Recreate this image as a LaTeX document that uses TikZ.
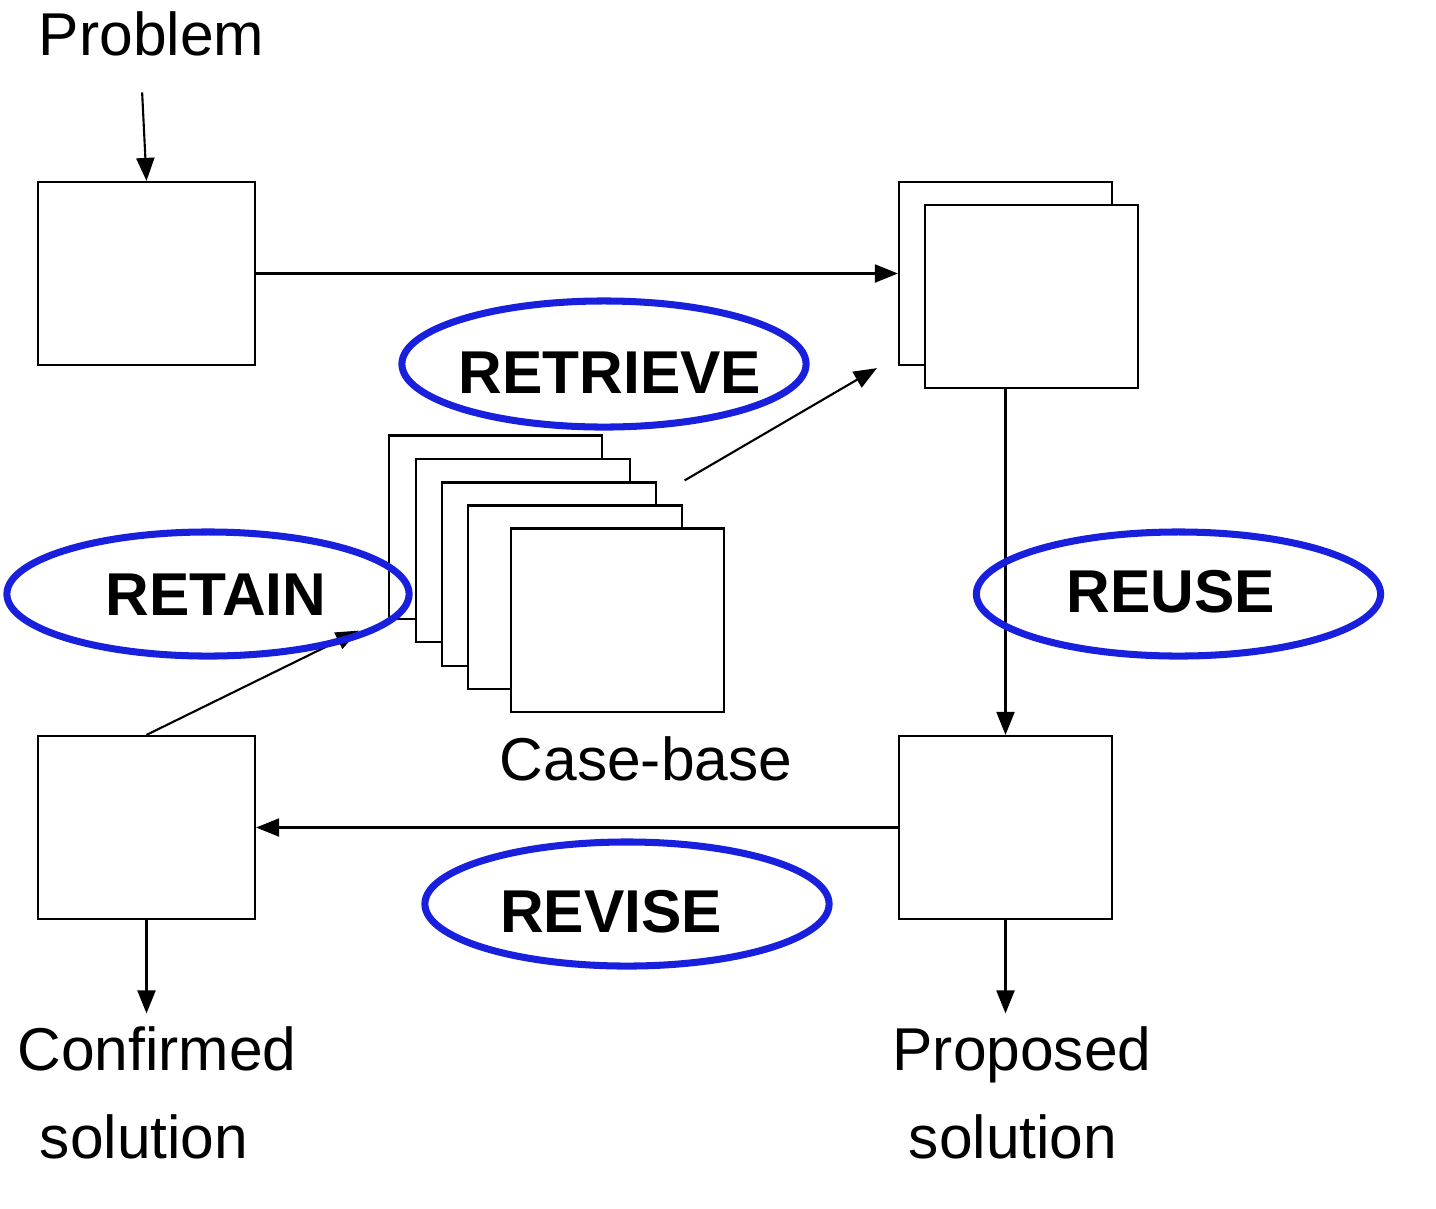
\documentclass[tikz,border=0pt]{standalone}
\usepackage{fontspec}
\setmainfont{Liberation Sans}
\usetikzlibrary{arrows.meta,positioning}
\definecolor{phaseblue}{RGB}{24,32,222}

\begin{document}
\begin{tikzpicture}[x=0.01cm,y=-0.01cm,>={Triangle[length=2.3mm,width=1.8mm]},line width=0.6pt,
  font=\fontsize{17.2}{21}\selectfont,
  case/.style={draw,fill=white,minimum width=2.13cm,minimum height=1.83cm,inner sep=0pt},
  txt/.style={anchor=base},
  phase/.style={draw=phaseblue,line width=2pt},
  phasetext/.style={anchor=base,font=\fontsize{17.2}{21}\selectfont\bfseries}]
\useasboundingbox (0,0) rectangle (1436,1208);
\node[txt] (problem) at (151.5,55) {Problem};
\node[case,minimum width=2.17cm] (new) at (146.5,273.5) {};
\node[case] (retrieved) at (1005.5,273.5) {};
\node[case] (retrievedb) at (1031.5,296.5) {};
% case-base
\node[case] (cb1) at (495.5,527) {};
\node[case] (cb2) at (523,550.5) {};
\node[case] (cb3) at (549,574) {};
\node[case] (cb4) at (575,597) {};
\node[case] (cb5) at (617.5,620) {};
\node[txt] (casebase) at (646,780) {Case-base};
\node[case] (solved) at (1005.5,827.5) {};
\node[case,minimum width=2.17cm] (tested) at (146.5,827.5) {};
\node[txt] (confirmed) at (157,1070) {Confirmed};
\node[txt] (confirmedb) at (144,1158) {solution};
\node[txt] (proposed) at (1022,1070) {Proposed};
\node[txt] (proposedb) at (1013,1158) {solution};

\draw[->,shorten <=0.24cm] ([xshift=-3]problem.south) -- (new.north);
\path[->] (new) edge (retrieved);
\draw[->] ([shift={(2,-24)}]cb4.north east) -- ([shift={(-21,2)}]retrieved.south west);
\draw[->] (retrievedb.south -| solved) -- (solved.north);
\path[->] (solved) edge (tested);
\draw[->] (tested.north) -- ([shift={(-29,11)}]cb1.south west);
\draw[->] (tested.south) -- (tested.south |- confirmed.north);
\draw[->] (solved.south) -- (solved.south |- proposed.north);

% the four phases
\draw[phase] (604,364) ellipse [x radius=2.02cm,y radius=0.63cm];
\node[phasetext] (retrieve) at (610,393) {RETRIEVE};
\draw[phase] (208,594) ellipse [x radius=2.01cm,y radius=0.62cm];
\node[phasetext] (retain) at (216,615) {RETAIN};
\draw[phase] (1178.5,594) ellipse [x radius=2.02cm,y radius=0.62cm];
\node[phasetext] (reuse) at (1171,612) {REUSE};
\draw[phase] (627,904) ellipse [x radius=2.02cm,y radius=0.62cm];
\node[phasetext] (revise) at (611,932) {REVISE};
\end{tikzpicture}
\end{document}
